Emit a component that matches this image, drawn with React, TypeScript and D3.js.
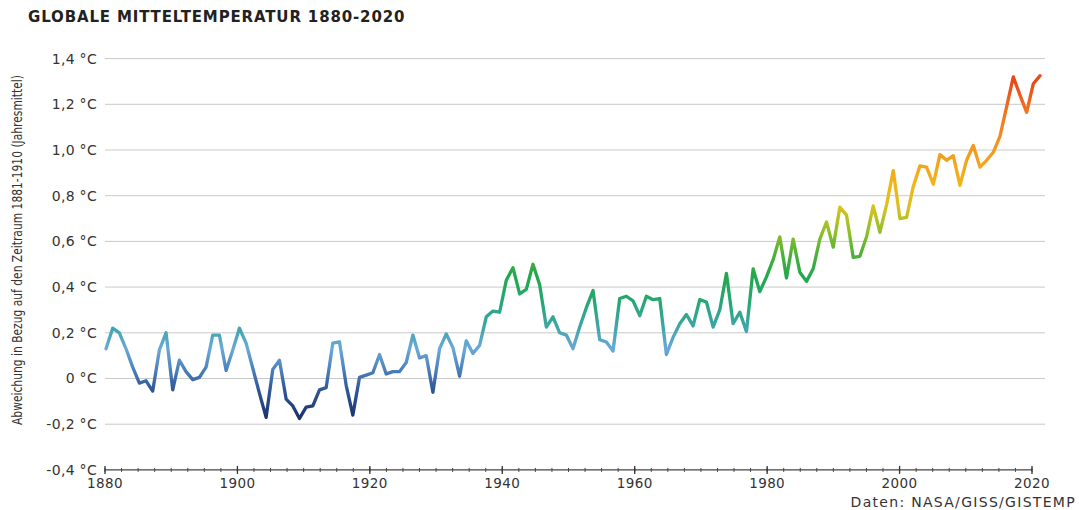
import React from "react";
import * as d3 from "d3";

const years: number[] = d3.range(1880, 2021);

const anomalies: number[] = [
  0.13, 0.22, 0.2, 0.13, 0.05, -0.02, -0.01, -0.055, 0.125, 0.2,
  -0.05, 0.08, 0.03, -0.005, 0.005, 0.05, 0.19, 0.19, 0.035, 0.125,
  0.22, 0.155, 0.045, -0.065, -0.17, 0.04, 0.08, -0.09, -0.12, -0.175,
  -0.125, -0.12, -0.05, -0.04, 0.155, 0.16, -0.03, -0.16, 0.005, 0.015,
  0.025, 0.105, 0.02, 0.03, 0.03, 0.07, 0.19, 0.09, 0.1, -0.06,
  0.13, 0.195, 0.135, 0.01, 0.165, 0.11, 0.145, 0.27, 0.295, 0.29,
  0.43, 0.485, 0.37, 0.39, 0.5, 0.41, 0.225, 0.27, 0.2, 0.19,
  0.13, 0.225, 0.31, 0.385, 0.17, 0.16, 0.12, 0.35, 0.36, 0.34,
  0.275, 0.36, 0.345, 0.35, 0.105, 0.18, 0.24, 0.28, 0.23, 0.345,
  0.335, 0.225, 0.3, 0.46, 0.24, 0.29, 0.205, 0.48, 0.38, 0.445,
  0.52, 0.62, 0.44, 0.61, 0.465, 0.425, 0.48, 0.61, 0.685, 0.575,
  0.75, 0.715, 0.53, 0.535, 0.62, 0.755, 0.64, 0.76, 0.91, 0.7,
  0.705, 0.84, 0.93, 0.925, 0.85, 0.98, 0.955, 0.975, 0.845, 0.955,
  1.02, 0.925, 0.955, 0.99, 1.06, 1.19, 1.32, 1.24, 1.165, 1.29,
  1.325,
];

const yTicks: number[] = [-0.4, -0.2, 0, 0.2, 0.4, 0.6, 0.8, 1.0, 1.2, 1.4];
const yTickLabels: string[] = ["-0,4 °C", "-0,2 °C", "0 °C", "0,2 °C", "0,4 °C", "0,6 °C", "0,8 °C", "1,0 °C", "1,2 °C", "1,4 °C"];
const xTicks: number[] = [1880, 1900, 1920, 1940, 1960, 1980, 2000, 2020];
const xMinorTicks: number[] = d3.range(1880, 2020.1, 2.5);

const colorStopValues: number[] = [-0.18, -0.05, 0.05, 0.13, 0.22, 0.32, 0.45, 0.55, 0.65, 0.75, 0.85, 1.0, 1.15, 1.3];
const colorStopColors: string[] = [
  "#1b2f6e", "#2f5796", "#4f86c0", "#6aa9d8", "#3fa6ab", "#27a77a", "#22a84c",
  "#52b236", "#96c02a", "#d8c21f", "#f2b41a", "#f39a1e", "#f07a20", "#e8481a",
];

const title = "GLOBALE MITTELTEMPERATUR 1880-2020";
const yTitle = "Abweichung in Bezug auf den Zeitraum 1881-1910 (Jahresmittel)";
const source = "Daten: NASA/GISS/GISTEMP";

export default function App() {
  const W = 1079;
  const H = 510;
  const y = d3.scaleLinear().domain([0, 1]).range([378.5, 150]);
  const xAxis = d3.scaleLinear().domain([1880, 2020]).range([105, 1032]);
  const xData = d3.scaleLinear().domain([1880, 2020]).range([106, 1040]);

  const pts = years.map((yr, i) => [yr, anomalies[i]] as [number, number]);
  const line = d3
    .line<[number, number]>()
    .x((d) => xData(d[0]))
    .y((d) => y(d[1]))
    .curve(d3.curveLinear);

  const gy1 = y(colorStopValues[0]);
  const gy2 = y(colorStopValues[colorStopValues.length - 1]);

  const axisY = y(-0.4);
  const labelFont = "'DejaVu Sans', sans-serif";
  const narrowFont = "'DejaVu Sans Condensed', 'Liberation Sans Narrow', 'Roboto', sans-serif";

  return (
    <svg
      width={W}
      height={H}
      style={{ position: "absolute", left: 0, top: 0, background: "#fff" }}
    >
      <defs>
        <linearGradient id="tempGrad" gradientUnits="userSpaceOnUse" x1={0} x2={0} y1={gy1} y2={gy2}>
          {colorStopValues.map((v, i) => (
            <stop key={i} offset={(y(v) - gy1) / (gy2 - gy1)} stopColor={colorStopColors[i]} />
          ))}
        </linearGradient>
      </defs>

      <text x={28} y={22} fontFamily={labelFont} fontWeight="bold" fontSize={15} letterSpacing={0.85} fill="#222">
        {title}
      </text>

      {yTicks.map((t, i) =>
        t === -0.4 ? null : (
          <line key={"g" + i} x1={105} x2={1045} y1={y(t)} y2={y(t)} stroke="#c9c9c9" strokeWidth={1} />
        )
      )}

      {yTicks.map((t, i) => (
        <text
          key={"yl" + i}
          x={97}
          y={y(t)}
          dy="0.35em"
          textAnchor="end"
          fontFamily={labelFont}
          fontSize={14}
          letterSpacing={0.3}
          fill="#333"
        >
          {yTickLabels[i]}
        </text>
      ))}

      <text
        transform={`translate(22, 250) rotate(-90)`}
        textAnchor="middle"
        fontFamily={narrowFont}
        fontSize={14}
        textLength={350}
        lengthAdjust="spacingAndGlyphs"
        fill="#333"
      >
        {yTitle}
      </text>

      <line x1={xAxis(1880)} x2={xAxis(2020)} y1={axisY} y2={axisY} stroke="#444" strokeWidth={1.2} />
      {xMinorTicks.map((t, i) => (
        <line key={"mt" + i} x1={xAxis(t)} x2={xAxis(t)} y1={axisY - 2} y2={axisY + 2} stroke="#444" strokeWidth={1} />
      ))}
      {xTicks.map((t, i) => (
        <line key={"xt" + i} x1={xAxis(t)} x2={xAxis(t)} y1={axisY - 4} y2={axisY + 4} stroke="#333" strokeWidth={1.3} />
      ))}
      {xTicks.map((t, i) => (
        <text
          key={"xl" + i}
          x={xAxis(t)}
          y={488}
          textAnchor="middle"
          fontFamily={labelFont}
          fontSize={13.5}
          letterSpacing={0.4}
          fill="#333"
        >
          {String(t)}
        </text>
      ))}

      <text x={1076} y={507} textAnchor="end" fontFamily={labelFont} fontSize={14} letterSpacing={1.3} fill="#333">
        {source}
      </text>

      <path
        d={line(pts) || ""}
        fill="none"
        stroke="url(#tempGrad)"
        strokeWidth={3.3}
        strokeLinejoin="round"
        strokeLinecap="round"
      />
    </svg>
  );
}
